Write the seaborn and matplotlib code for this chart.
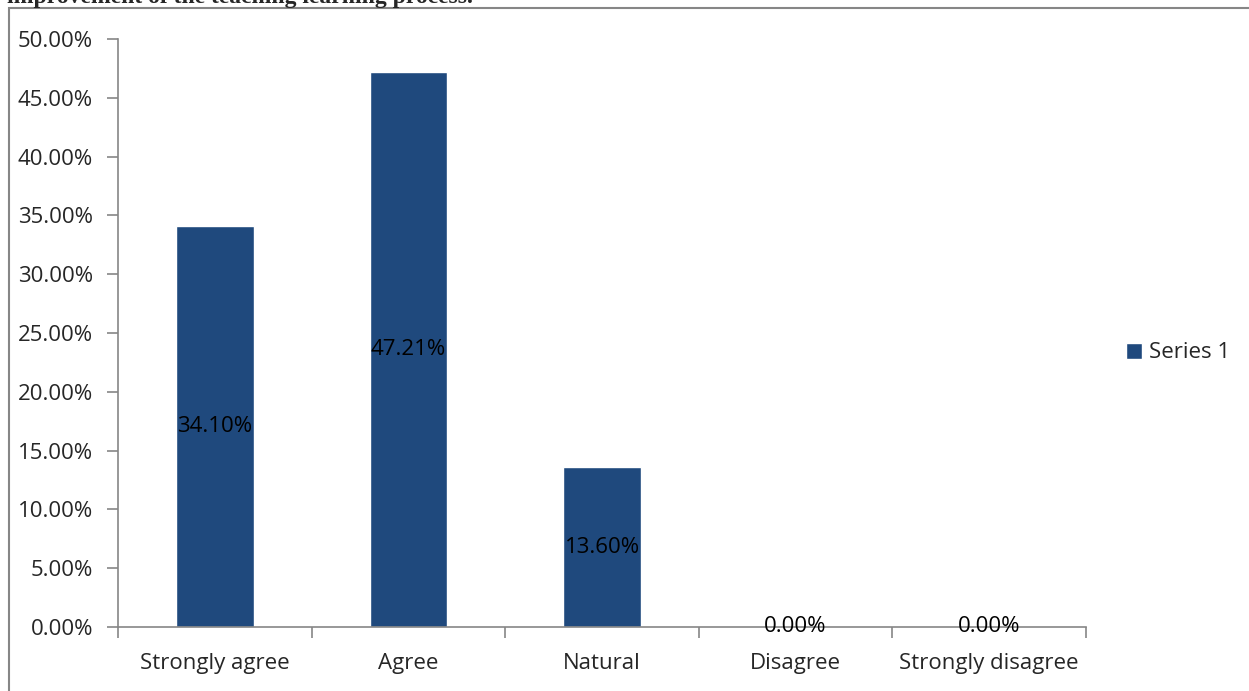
import matplotlib
matplotlib.use("Agg")
import matplotlib.pyplot as plt
from matplotlib.patches import Rectangle, Patch
from matplotlib.ticker import FuncFormatter, FixedLocator
import seaborn as sns
import pandas as pd

# data
categories = ["Strongly agree", "Agree", "Natural", "Disagree", "Strongly disagree"]
values = [34.10, 47.21, 13.60, 0.00, 0.00]
series_name = "Series 1"
title_text = "improvement of the teaching learning process."

bar_color = "#1F497D"
axis_gray = "#868686"
fs = 16

sns.set_style("white")
plt.rcParams["font.family"] = ["Open Sans", "DejaVu Sans"]

df = pd.DataFrame({"cat": categories, "val": values})

fig = plt.figure(figsize=(12.49, 6.91), dpi=100)
ax = fig.add_axes([118 / 1249, 1 - 627 / 691, (1086 - 118) / 1249, (627 - 39) / 691])

sns.barplot(data=df, x="cat", y="val", color=bar_color, width=0.4,
            saturation=1, ax=ax)

ax.bar_label(ax.containers[0], labels=[f"{v:.2f}%" for v in values],
             label_type="center", fontsize=fs, color="black")

ax.set_xlim(-0.5, len(categories) - 0.5)
ax.set_ylim(0, 50)
ax.set_yticks(range(0, 51, 5))
ax.yaxis.set_major_formatter(FuncFormatter(lambda v, p: f"{v:.2f}%"))
ax.tick_params(axis="y", left=True, length=8, width=1.2, color=axis_gray,
               labelsize=fs, pad=10, direction="out")
ax.tick_params(axis="x", which="major", bottom=True, length=0, labelsize=fs, pad=19)
ax.xaxis.set_minor_locator(FixedLocator([i - 0.5 for i in range(len(categories) + 1)]))
ax.tick_params(axis="x", which="minor", bottom=True, length=8, width=1.2,
               color=axis_gray, direction="out")
ax.set_xlabel("")
ax.set_ylabel("")

for s in ["top", "right"]:
    ax.spines[s].set_visible(False)
for s in ["left", "bottom"]:
    ax.spines[s].set_color(axis_gray)
    ax.spines[s].set_linewidth(1.2)

# legend
fig.legend(handles=[Patch(facecolor=bar_color, label=series_name)],
           loc="center left", bbox_to_anchor=(1106 / 1249, 1 - 353 / 691),
           frameon=False, fontsize=fs, handlelength=0.7, handleheight=0.7,
           handletextpad=0.35)

# outer chart frame
fig.patches.append(Rectangle((9 / 1249, -0.1), 1.2, 1 - 8 / 691 + 0.1,
                             transform=fig.transFigure, fill=False,
                             edgecolor=axis_gray, linewidth=1.5))

# cut-off caption above chart
fig.text(7 / 1249, 1 - 3 / 691, title_text, fontsize=17, fontweight="bold",
         family=["Liberation Serif", "DejaVu Serif"], va="baseline", ha="left")

fig.savefig("out.png", dpi=100)
